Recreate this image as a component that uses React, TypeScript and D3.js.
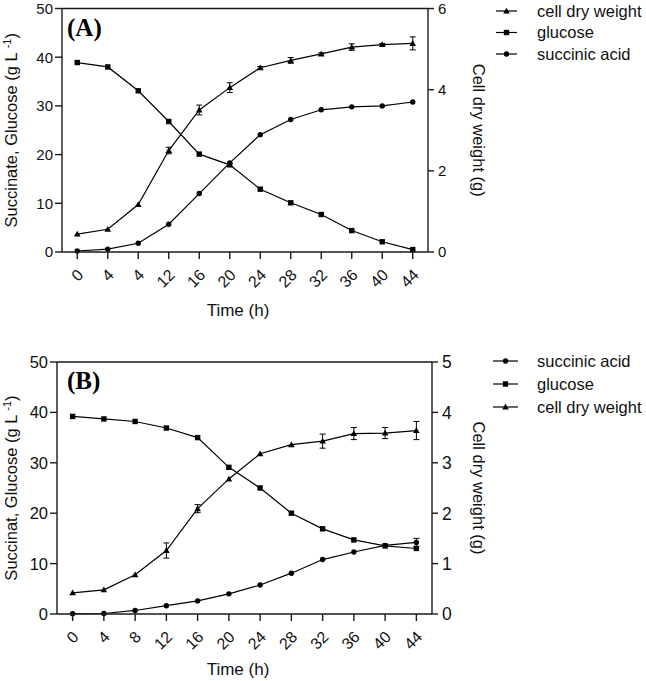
import React from "react";
import * as d3 from "d3";

// ---------- data ----------
const timeA = ["0", "4", "4", "12", "16", "20", "24", "28", "32", "36", "40", "44"];
const glucoseA = [38.9, 38.0, 33.1, 26.8, 20.1, 17.9, 12.9, 10.1, 7.7, 4.4, 2.1, 0.5];
const succinicA = [0.2, 0.6, 1.8, 5.7, 12.0, 18.3, 24.1, 27.2, 29.2, 29.8, 30.0, 30.8];
const cdwA = [0.44, 0.56, 1.17, 2.5, 3.5, 4.05, 4.54, 4.72, 4.88, 5.05, 5.11, 5.14];
const cdwErrA = [0, 0, 0, 0.08, 0.12, 0.12, 0.03, 0.07, 0.03, 0.08, 0.03, 0.16];

const timeB = ["0", "4", "8", "12", "16", "20", "24", "28", "32", "36", "40", "44"];
const glucoseB = [39.2, 38.7, 38.2, 36.9, 35.0, 29.1, 25.0, 20.0, 16.9, 14.7, 13.5, 13.0];
const succinicB = [0.05, 0.1, 0.7, 1.65, 2.6, 4.0, 5.75, 8.1, 10.8, 12.3, 13.6, 14.2];
const succinicErrB = [0, 0, 0, 0, 0, 0, 0, 0, 0, 0, 0, 0.8];
const cdwB = [0.42, 0.48, 0.78, 1.26, 2.09, 2.68, 3.18, 3.36, 3.43, 3.58, 3.59, 3.64];
const cdwErrB = [0, 0, 0, 0.15, 0.08, 0, 0, 0, 0.14, 0.12, 0.11, 0.18];

const leftTicks = [0, 10, 20, 30, 40, 50];
const rightTicksA = [0, 2, 4, 6];
const rightTicksB = [0, 1, 2, 3, 4, 5];

const SANS = "'Liberation Sans', Arial, Helvetica, sans-serif";
const SERIF = "'Liberation Serif', 'Times New Roman', serif";
const AXIS = "#1a1a1a";

type Marker = "square" | "circle" | "triangle";

function MarkerShape({ kind, x, y }: { kind: Marker; x: number; y: number }) {
  if (kind === "square") return <rect x={x - 2.7} y={y - 2.7} width={5.4} height={5.4} fill="#000" />;
  if (kind === "circle") return <circle cx={x} cy={y} r={2.7} fill="#000" />;
  const s = 3.3;
  return <path d={`M${x},${y - s}L${x + s},${y + s * 0.75}L${x - s},${y + s * 0.75}Z`} fill="#000" />;
}

interface SeriesDef {
  name: string;
  values: number[];
  errors?: number[];
  marker: Marker;
  axis: "left" | "right";
}

interface PanelProps {
  label: string;
  times: string[];
  series: SeriesDef[];
  legendOrder: number[];
  rightTicks: number[];
  rightMax: number;
  leftTitle: string;
  x0: number;
  x1: number;
  yTop: number;
  yBot: number;
  leftFs: number;
  rightFs: number;
  legendX: number;
  legendLineW: number;
  legendY: number;
  legendGap: number;
  titleY: number;
}

function Panel(p: PanelProps) {
  const idx = p.times.map((_, i) => i);
  const x = d3.scalePoint<number>().domain(idx).range([p.x0, p.x1]).padding(0.5);
  const yL = d3.scaleLinear().domain([0, 50]).range([p.yBot, p.yTop]);
  const yR = d3.scaleLinear().domain([0, p.rightMax]).range([p.yBot, p.yTop]);
  const midY = (p.yTop + p.yBot) / 2;

  return (
    <g>
      {/* series */}
      {p.series.map((s, si) => {
        const y = s.axis === "left" ? yL : yR;
        const line = d3
          .line<number>()
          .x((_, i) => x(i) as number)
          .y((v) => y(v));
        return (
          <g key={si}>
            <path d={line(s.values) || ""} fill="none" stroke="#000" strokeWidth={1.2} />
            {s.errors &&
              s.values.map((v, i) => {
                const e = s.errors![i];
                if (!e) return null;
                const cx = x(i) as number;
                const t = y(v + e);
                const b = y(v - e);
                return (
                  <g key={i} stroke="#000" strokeWidth={1}>
                    <line x1={cx} x2={cx} y1={t} y2={b} />
                    <line x1={cx - 3} x2={cx + 3} y1={t} y2={t} />
                    <line x1={cx - 3} x2={cx + 3} y1={b} y2={b} />
                  </g>
                );
              })}
            {s.values.map((v, i) => (
              <MarkerShape key={i} kind={s.marker} x={x(i) as number} y={y(v)} />
            ))}
          </g>
        );
      })}

      {/* frame/axes */}
      <g stroke={AXIS} strokeWidth={1.4} fill="none">
        <line x1={p.x0} x2={p.x0} y1={p.yTop} y2={p.yBot} />
        <line x1={p.x1} x2={p.x1} y1={p.yTop} y2={p.yBot} />
        <line x1={p.x0} x2={p.x1} y1={p.yTop} y2={p.yTop} />
        <line x1={p.x0} x2={p.x1} y1={p.yBot} y2={p.yBot} />
      </g>

      {/* left ticks */}
      {leftTicks.map((t) => (
        <g key={"l" + t}>
          <line x1={p.x0 - 7} x2={p.x0} y1={yL(t)} y2={yL(t)} stroke={AXIS} strokeWidth={1.4} />
          <text x={p.x0 - 9} y={yL(t)} dy="0.36em" textAnchor="end" fontSize={p.leftFs} fontFamily={SANS} fill="#111">
            {t}
          </text>
        </g>
      ))}
      {/* right ticks */}
      {p.rightTicks.map((t) => (
        <g key={"r" + t}>
          <line x1={p.x1} x2={p.x1 + 6} y1={yR(t)} y2={yR(t)} stroke={AXIS} strokeWidth={1.4} />
          <text x={p.x1 + 10} y={yR(t)} dy="0.36em" textAnchor="start" fontSize={p.rightFs} fontFamily={SANS} fill="#111">
            {t}
          </text>
        </g>
      ))}
      {/* x ticks */}
      {idx.map((i) => {
        const cx = x(i) as number;
        return (
          <g key={"x" + i}>
            <line x1={cx} x2={cx} y1={p.yBot} y2={p.yBot + 7} stroke={AXIS} strokeWidth={1.4} />
            <text
              transform={`translate(${cx + 7},${p.yBot + 24}) rotate(-45)`}
              textAnchor="end"
              fontSize={16}
              fontFamily={SANS}
              fill="#111"
            >
              {p.times[i]}
            </text>
          </g>
        );
      })}

      {/* axis titles */}
      <text x={238} y={p.titleY} textAnchor="middle" fontSize={17} fontFamily={SANS} fill="#111">
        Time (h)
      </text>
      <text
        transform={`translate(17,${midY}) rotate(-90)`}
        textAnchor="middle"
        fontSize={16.5}
        fontFamily={SANS}
        fill="#111"
      >
        <tspan>{p.leftTitle} (g L </tspan>
        <tspan dy={-6} fontSize={11}>-1</tspan>
        <tspan dy={6}>)</tspan>
      </text>
      <text
        transform={`translate(473,${midY}) rotate(90)`}
        textAnchor="middle"
        fontSize={16.5}
        fontFamily={SANS}
        fill="#111"
      >
        Cell dry weight (g)
      </text>

      {/* panel label */}
      <text x={67} y={p.yTop + 27} fontSize={25} fontWeight="bold" fontFamily={SERIF} fill="#000">
        {p.label}
      </text>

      {/* legend */}
      {p.legendOrder.map((si, k) => {
        const s = p.series[si];
        const ly = p.legendY + k * p.legendGap;
        const lx = p.legendX;
        return (
          <g key={"lg" + k}>
            <line x1={lx} x2={lx + p.legendLineW} y1={ly} y2={ly} stroke="#000" strokeWidth={1.2} />
            <MarkerShape kind={s.marker} x={lx + p.legendLineW / 2} y={ly} />
            <text x={537} y={ly} dy="0.36em" fontSize={16.5} fontFamily={SANS} fill="#111">
              {s.name}
            </text>
          </g>
        );
      })}
    </g>
  );
}

export default function App() {
  const seriesA: SeriesDef[] = [
    { name: "cell dry weight", values: cdwA, errors: cdwErrA, marker: "triangle", axis: "right" },
    { name: "glucose", values: glucoseA, marker: "square", axis: "left" },
    { name: "succinic acid", values: succinicA, marker: "circle", axis: "left" },
  ];
  const seriesB: SeriesDef[] = [
    { name: "succinic acid", values: succinicB, errors: succinicErrB, marker: "circle", axis: "left" },
    { name: "glucose", values: glucoseB, marker: "square", axis: "left" },
    { name: "cell dry weight", values: cdwB, errors: cdwErrB, marker: "triangle", axis: "right" },
  ];
  return (
    <svg
      width={646}
      height={681}
      style={{ position: "absolute", left: 0, top: 0, background: "#fff" }}
    >
      <rect width={646} height={681} fill="#fff" />
      <Panel
        label="(A)"
        times={timeA}
        series={seriesA}
        legendOrder={[0, 1, 2]}
        rightTicks={rightTicksA}
        rightMax={6}
        leftTitle="Succinate, Glucose"
        x0={62}
        x1={428}
        yTop={8.5}
        yBot={252}
        leftFs={15}
        rightFs={15}
        legendX={496}
        legendLineW={21}
        legendY={11}
        legendGap={21.5}
        titleY={316}
      />
      <Panel
        label="(B)"
        times={timeB}
        series={seriesB}
        legendOrder={[0, 1, 2]}
        rightTicks={rightTicksB}
        rightMax={5}
        leftTitle="Succinat, Glucose"
        x0={57}
        x1={432}
        yTop={362}
        yBot={614}
        leftFs={16.5}
        rightFs={17.5}
        legendX={493}
        legendLineW={25}
        legendY={361}
        legendGap={23}
        titleY={675}
      />
    </svg>
  );
}
